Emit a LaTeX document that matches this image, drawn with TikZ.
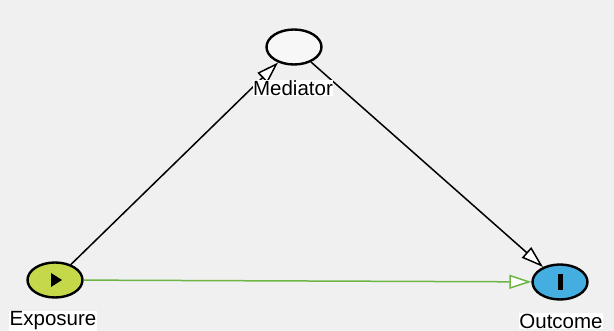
\documentclass[tikz,border=0pt]{standalone}
\usepackage{fontspec}
\setmainfont{Liberation Sans}
\usetikzlibrary{arrows.meta,shapes.geometric,calc}
\begin{document}
\begin{tikzpicture}[x=1pt,y=-1pt,
  var/.style={ellipse,draw=black,line width=2.4pt,minimum width=55pt,minimum height=35pt,inner sep=0pt},
  lbl/.style={fill=white,inner sep=0.5pt,font=\fontsize{20.5}{22}\selectfont},
  edge/.style={line width=1.5pt,-{Triangle[open,length=22pt,width=14pt,fill=white]}}]
\fill[black!6] (0,0) rectangle (614,331);
\useasboundingbox (0,0) rectangle (614,331);
\definecolor{expo}{HTML}{C5D84A}
\definecolor{outc}{HTML}{43AEDF}
\definecolor{grn}{HTML}{6DB544}
\node[var,fill=white!97!black] (med) at (294,47) {};
\node[var,fill=expo] (exp) at (55,280) {};
\node[var,fill=outc] (out) at (560,282) {};
\fill[black] ($(exp)+(-4,-7)$) -- ($(exp)+(7,0)$) -- ($(exp)+(-4,7)$) -- cycle;
\fill[black] ($(out)+(-2.5,-8)$) rectangle ($(out)+(2.5,8)$);
\draw[edge,black] (exp) -- (med);
\draw[edge,black] (med) -- (out);
\draw[edge,grn] (exp) -- (out);
\node[lbl] (medl) at (293,88) {Mediator};
\node[lbl] (expl) at (53,321) {Exposure};
\node[lbl] (outl) at (561,321) {Outcome};
\end{tikzpicture}
\end{document}
